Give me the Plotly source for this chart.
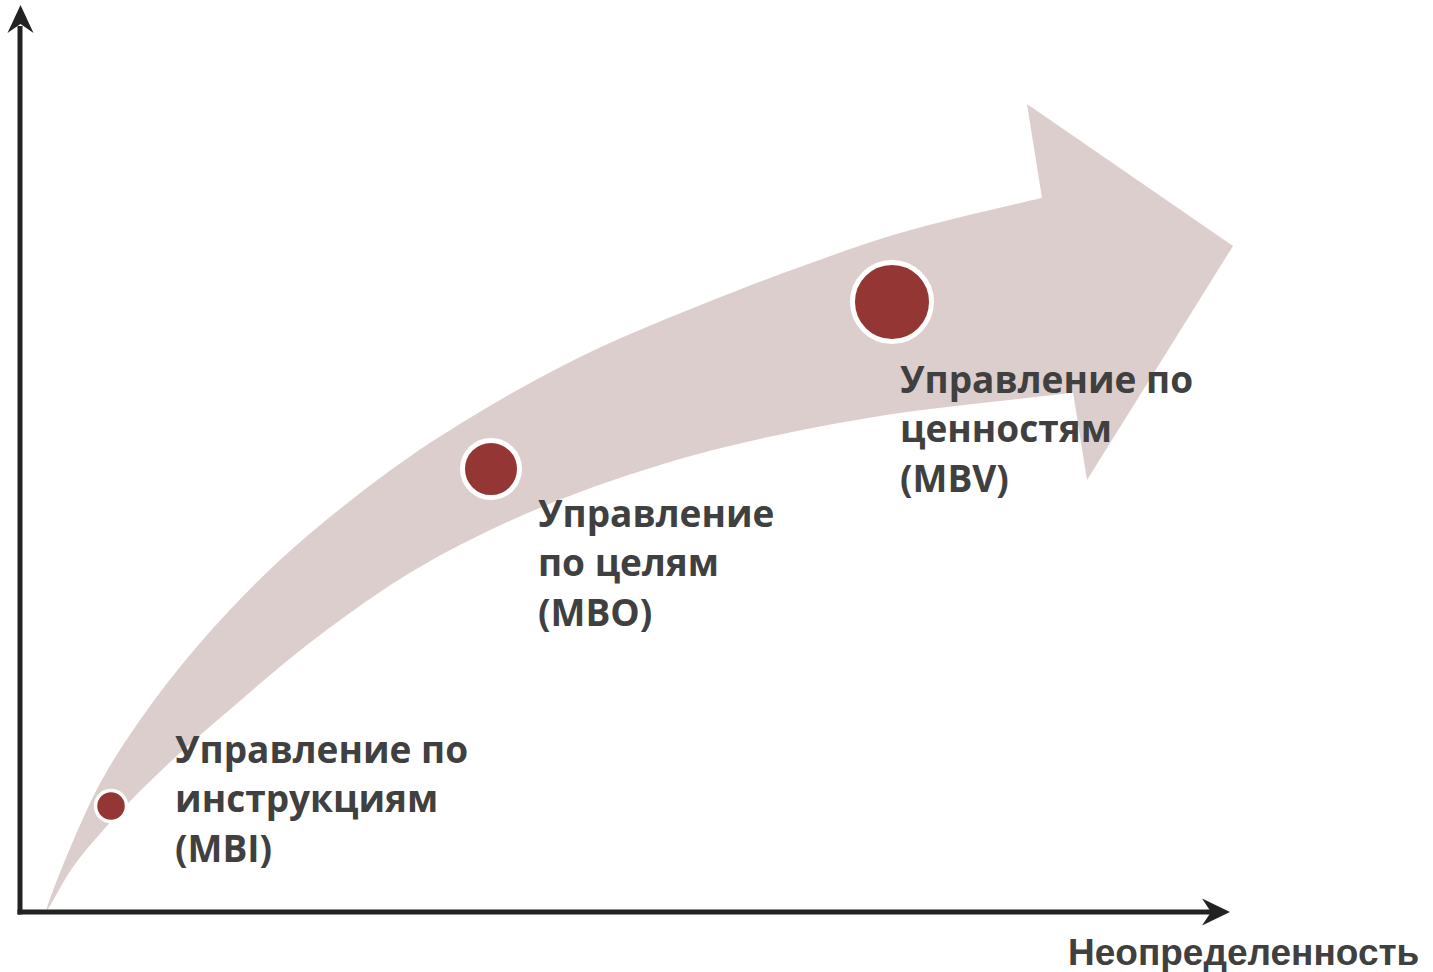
import plotly.graph_objects as go

W, H = 1433, 972

# Curved arrow outline (upper edge from tail to head, lower edge back to tail)
upper_x = [47, 95, 140, 200, 280, 380, 463, 580, 713, 800, 900, 1041, 1090]
upper_y = [910, 793, 720, 643, 560, 478, 422, 357, 300, 267, 233, 198, 186]
lower_x = [1110, 1070, 1000, 880, 713, 580, 480, 400, 307, 227, 167, 117, 73, 47]
lower_y = [388, 393, 401, 416, 450, 492, 535, 579, 645, 712, 765, 815, 867, 910]
head_x = [1027, 1233, 1087]
head_y = [104, 246, 480]

# Stages
stage_x = [111, 491, 892]
stage_y = [806, 469, 302]
stage_size = [31, 57, 79]
stage_ring = [3.5, 5, 5]

label_lines = [
    ["Управление по", "инструкциям", "(MBI)"],
    ["Управление", "по целям", "(MBO)"],
    ["Управление по", "ценностям", "(MBV)"],
]
label_x = [173, 536, 898]
label_y0 = [748, 512, 378]
label_step = 49.5

x_axis_title = "Неопределенность"

ARROW_FILL = "#DDCECE"
DOT = "#943634"
TEXT = "#404040"
AXIS = "#222222"

fig = go.Figure()

fig.add_trace(go.Scatter(
    x=upper_x + lower_x, y=upper_y + lower_y,
    mode="lines", line=dict(shape="spline", smoothing=1.0, width=0, color=ARROW_FILL),
    fill="toself", fillcolor=ARROW_FILL, hoverinfo="skip", showlegend=False))

fig.add_trace(go.Scatter(
    x=head_x + [head_x[0]], y=head_y + [head_y[0]],
    mode="lines", line=dict(width=0, color=ARROW_FILL),
    fill="toself", fillcolor=ARROW_FILL, hoverinfo="skip", showlegend=False))

fig.add_trace(go.Scatter(
    x=stage_x, y=stage_y, mode="markers",
    marker=dict(size=stage_size, color=DOT, opacity=1,
                line=dict(color="white", width=stage_ring)),
    hoverinfo="skip", showlegend=False))

for lines, lx, ly in zip(label_lines, label_x, label_y0):
    for i, t in enumerate(lines):
        fig.add_annotation(x=lx, y=ly + i * label_step, text=t, showarrow=False,
                           xanchor="left", yanchor="middle",
                           font=dict(family="Open Sans", size=37, color=TEXT, weight=700))

fig.add_annotation(x=1421, y=952, text=x_axis_title, showarrow=False,
                   xanchor="right", yanchor="middle",
                   font=dict(family="Liberation Sans", size=37, color=TEXT, weight=700))

# Axes (drawn as lines with arrowheads)
fig.add_shape(type="line", x0=20, y0=914.5, x1=20, y1=26, line=dict(color=AXIS, width=5), layer="above")
fig.add_shape(type="line", x0=17.5, y0=912, x1=1212, y1=912, line=dict(color=AXIS, width=5), layer="above")
fig.add_shape(type="path", path="M 20.5 5 L 33.5 33 L 20.5 24 L 7.5 33 Z",
              fillcolor=AXIS, line=dict(width=0), layer="above")
fig.add_shape(type="path", path="M 1230 912 L 1202 898.5 L 1211 912 L 1202 925.5 Z",
              fillcolor=AXIS, line=dict(width=0), layer="above")

fig.update_xaxes(range=[0, W], visible=False, fixedrange=True)
fig.update_yaxes(range=[H, 0], visible=False, fixedrange=True)
fig.update_layout(width=W, height=H, margin=dict(l=0, r=0, t=0, b=0),
                  paper_bgcolor="white", plot_bgcolor="white")

fig.write_html("out.html", config={"displayModeBar": False},
               post_script="document.body.style.margin='0';document.body.style.overflow='hidden';")
